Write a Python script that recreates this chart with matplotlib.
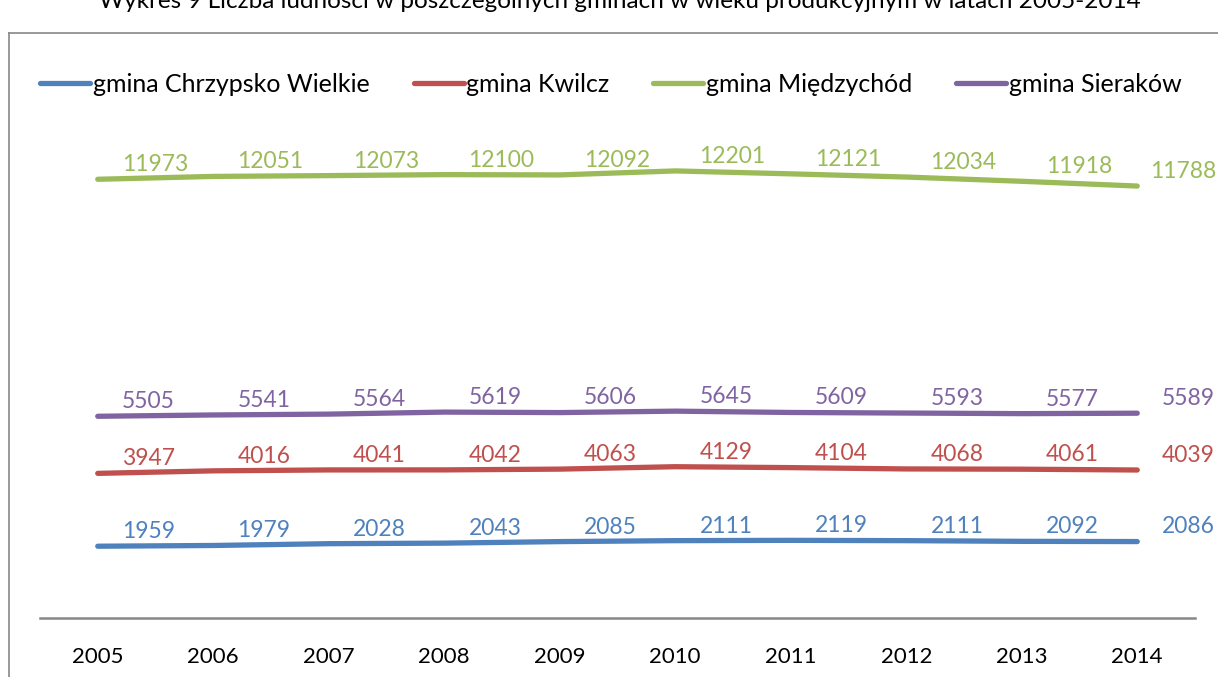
import numpy as np
import matplotlib.pyplot as plt
from matplotlib.lines import Line2D

plt.rcParams['font.family'] = ['Lato', 'DejaVu Sans']

years = ['2005', '2006', '2007', '2008', '2009', '2010', '2011', '2012', '2013', '2014']
chrzypsko = [1959, 1979, 2028, 2043, 2085, 2111, 2119, 2111, 2092, 2086]
kwilcz = [3947, 4016, 4041, 4042, 4063, 4129, 4104, 4068, 4061, 4039]
miedzychod = [11973, 12051, 12073, 12100, 12092, 12201, 12121, 12034, 11918, 11788]
sierakow = [5505, 5541, 5564, 5619, 5606, 5645, 5609, 5593, 5577, 5589]

names = ['gmina Chrzypsko Wielkie', 'gmina Kwilcz', 'gmina Międzychód', 'gmina Sieraków']
colors = ['#4F81BD', '#C0504D', '#9BBB59', '#8064A2']
series = [chrzypsko, kwilcz, miedzychod, sierakow]

fig = plt.figure(figsize=(12.18, 6.77), dpi=100)
ax = fig.add_axes([40 / 1218, 1 - 618 / 677, 1155 / 1218, 513 / 677])

x = np.arange(len(years))
for vals, name, c in zip(series, names, colors):
    ax.plot(x, vals, color=c, lw=3.8, solid_capstyle='round', label=name)
    for xi, v in zip(x, vals):
        dx = 17.5
        if xi == x[-1] and v > 10000:
            dx = 9  # excel pulled this one in so it fits
        ax.annotate(str(v), (xi, v), xytext=(dx, 10.5), textcoords='offset points',
                    ha='left', va='center', color=c, fontsize=16.5)

ax.set_xlim(-0.5, 9.5)
ax.set_ylim(0, 14000)
ax.set_xticks(x)
ax.set_xticklabels(years, fontsize=16)
ax.tick_params(axis='x', length=0, pad=21)
ax.set_yticks([])
for s in ['top', 'right', 'left']:
    ax.spines[s].set_visible(False)
ax.spines['bottom'].set_color('#888888')
ax.spines['bottom'].set_linewidth(1.8)

fig.legend(loc='center left', bbox_to_anchor=(40 / 1218, 1 - 84 / 677), ncol=4,
           frameon=False, fontsize=18, handlelength=2.0, handletextpad=0.12,
           columnspacing=1.75, borderaxespad=0, borderpad=0)

# chart border (cut off on the top/right)
fig.add_artist(Line2D([9 / 1218, 9 / 1218], [0, 1 - 33 / 677], color='#888888', lw=1.2))
fig.add_artist(Line2D([9 / 1218, 1.0], [1 - 33 / 677, 1 - 33 / 677], color='#888888', lw=1.2))

fig.text(620 / 1218, 1 - 8 / 677, 'Wykres 9 Liczba ludności w poszczególnych gminach w wieku produkcyjnym w latach 2005-2014',
         ha='center', va='baseline', fontsize=17.5)

fig.savefig('out.png', dpi=100)
